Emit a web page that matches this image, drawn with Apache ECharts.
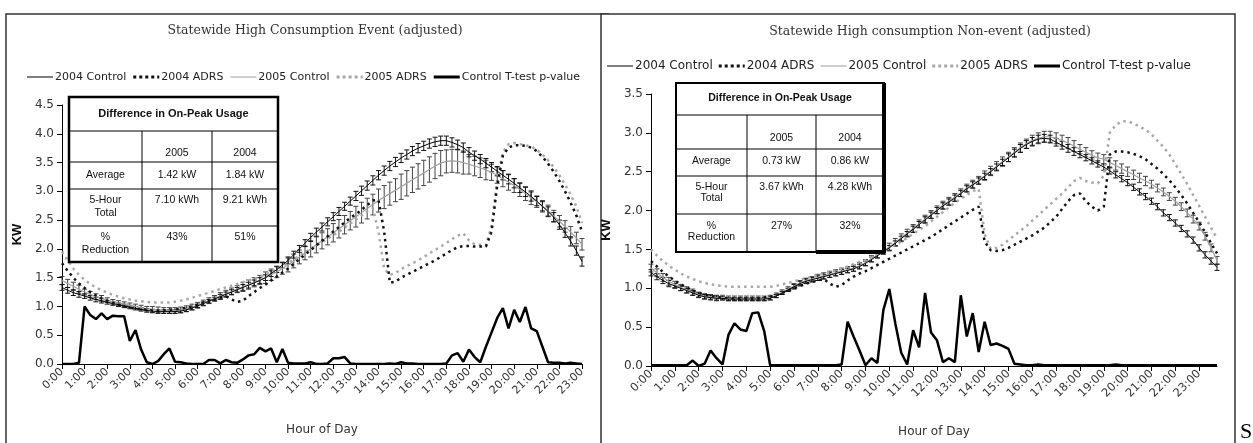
<!DOCTYPE html>
<html><head><meta charset="utf-8">
<script src="https://cdn.jsdelivr.net/npm/echarts@6/dist/echarts.min.js"></script>
<style>html,body{margin:0;padding:0;background:#fff}#c{width:1253px;height:443px}</style>
</head><body><div id="c"></div>
<script>
const seriesNames = ['2004 Control','2004 ADRS','2005 Control','2005 ADRS','Control T-test p-value'];
const titleEvent = 'Statewide High Consumption Event (adjusted)';
const titleNonEvent = 'Statewide High consumption Non-event (adjusted)';

// ---- Left panel: Event (15-min points, 0:00 .. 23:00) ----
const evt2004Control = [
1.33,1.28,1.24,1.21, 1.18,1.15,1.12,1.10, 1.07,1.05,1.03,1.01, 0.99,0.97,0.95,0.93,
0.92,0.91,0.91,0.91, 0.91,0.92,0.94,0.97, 1.01,1.05,1.09,1.13, 1.17,1.21,1.25,1.29,
1.33,1.37,1.41,1.45, 1.50,1.57,1.64,1.72, 1.80,1.90,2.00,2.10, 2.20,2.29,2.38,2.47,
2.56,2.65,2.74,2.83, 2.92,3.01,3.10,3.19, 3.28,3.36,3.44,3.51, 3.58,3.64,3.70,3.75,
3.79,3.83,3.86,3.88, 3.88,3.85,3.81,3.76, 3.68,3.62,3.56,3.49, 3.42,3.35,3.28,3.21,
3.14,3.06,2.99,2.91, 2.83,2.74,2.65,2.55, 2.42,2.28,2.13,1.97, 1.78];
const evt2005Control = [
1.45,1.40,1.35,1.30, 1.25,1.21,1.17,1.14, 1.11,1.08,1.06,1.04, 1.02,1.00,0.98,0.96,
0.95,0.94,0.93,0.93, 0.93,0.94,0.96,0.99, 1.02,1.06,1.10,1.14, 1.18,1.22,1.26,1.30,
1.34,1.38,1.42,1.46, 1.50,1.55,1.60,1.66, 1.72,1.79,1.86,1.93, 2.00,2.07,2.14,2.21,
2.28,2.35,2.42,2.49, 2.56,2.63,2.70,2.77, 2.84,2.90,2.96,3.02, 3.08,3.14,3.20,3.26,
3.32,3.38,3.44,3.49, 3.52,3.53,3.52,3.50, 3.47,3.44,3.41,3.37, 3.33,3.28,3.22,3.16,
3.10,3.03,2.96,2.89, 2.82,2.74,2.66,2.57, 2.48,2.39,2.29,2.19, 2.08];
const evt2004Adrs = [
1.75,1.62,1.50,1.40, 1.32,1.25,1.19,1.14, 1.10,1.06,1.03,1.00, 0.98,0.96,0.95,0.94,
0.93,0.93,0.93,0.94, 0.95,0.96,0.98,1.00, 1.03,1.06,1.09,1.12, 1.15,1.18,1.12,1.08,
1.10,1.18,1.25,1.32, 1.38,1.45,1.52,1.59, 1.66,1.74,1.82,1.90, 1.98,2.06,2.14,2.22,
2.30,2.38,2.46,2.54, 2.60,2.68,2.76,2.84, 2.85,2.30,1.41,1.43, 1.50,1.55,1.60,1.65,
1.70,1.75,1.80,1.86, 1.92,1.98,2.03,2.05, 2.05,2.04,2.04,2.04, 2.30,3.10,3.62,3.76,
3.80,3.80,3.79,3.76, 3.70,3.60,3.48,3.34, 3.18,3.00,2.80,2.58, 2.30];
const evt2005Adrs = [
1.95,1.80,1.66,1.55, 1.46,1.39,1.33,1.28, 1.24,1.20,1.17,1.14, 1.12,1.10,1.09,1.08,
1.07,1.07,1.07,1.07, 1.08,1.10,1.12,1.15, 1.18,1.21,1.24,1.27, 1.30,1.33,1.36,1.39,
1.42,1.45,1.48,1.51, 1.55,1.60,1.65,1.70, 1.76,1.82,1.88,1.94, 2.00,2.06,2.12,2.18,
2.24,2.30,2.37,2.44, 2.51,2.58,2.65,2.70, 2.30,1.65,1.55,1.58, 1.65,1.70,1.75,1.80,
1.86,1.92,1.98,2.04, 2.10,2.17,2.23,2.27, 2.15,2.08,2.07,2.06, 2.40,3.20,3.68,3.82,
3.84,3.82,3.80,3.78, 3.72,3.64,3.54,3.42, 3.28,3.12,2.94,2.74, 2.45];
const evtPValue = [
0.00,0.00,0.00,0.02, 1.00,0.85,0.78,0.88, 0.78,0.84,0.83,0.83, 0.40,0.59,0.25,0.03,
0.00,0.05,0.17,0.27, 0.04,0.03,0.01,0.00, 0.00,0.00,0.07,0.07, 0.01,0.07,0.03,0.02,
0.08,0.15,0.17,0.28, 0.22,0.27,0.03,0.26, 0.02,0.01,0.01,0.01, 0.03,0.00,0.00,0.01,
0.10,0.10,0.12,0.01, 0.00,0.00,0.00,0.00, 0.00,0.00,0.01,0.00, 0.03,0.01,0.01,0.00,
0.00,0.00,0.00,0.00, 0.01,0.15,0.19,0.04, 0.25,0.12,0.03,0.30, 0.55,0.80,0.97,0.62,
0.94,0.73,0.99,0.62, 0.57,0.30,0.03,0.02, 0.02,0.01,0.02,0.01, 0.00];
// error-bar half widths, one per hour
const evt2004ControlErr = [0.05,0.04,0.03,0.03,0.03,0.03,0.03,0.04,0.05,0.05,0.06,0.07,0.07,0.08,0.08,0.08,0.08,0.08,0.08,0.08,0.08,0.08,0.08,0.08];
const evt2005ControlErr = [0.07,0.05,0.04,0.04,0.05,0.05,0.05,0.06,0.08,0.10,0.12,0.14,0.16,0.18,0.20,0.22,0.22,0.20,0.17,0.14,0.12,0.10,0.10,0.10];

// ---- Right panel: Non-event (15-min points, 0:00 .. 23:45) ----
const non2004Control = [
1.20,1.15,1.10,1.06, 1.03,1.00,0.97,0.94, 0.91,0.89,0.88,0.87, 0.87,0.86,0.86,0.86,
0.86,0.86,0.86,0.86, 0.87,0.90,0.94,0.98, 1.02,1.06,1.09,1.11, 1.13,1.15,1.17,1.19,
1.21,1.23,1.25,1.28, 1.32,1.37,1.42,1.47, 1.52,1.58,1.64,1.70, 1.76,1.82,1.88,1.94,
2.00,2.06,2.11,2.16, 2.22,2.28,2.33,2.38, 2.44,2.50,2.56,2.62, 2.68,2.74,2.80,2.85,
2.89,2.92,2.93,2.92, 2.88,2.84,2.80,2.76, 2.72,2.68,2.64,2.60, 2.56,2.51,2.46,2.41,
2.36,2.30,2.24,2.18, 2.12,2.05,1.97,1.91, 1.84,1.77,1.70,1.62, 1.52,1.43,1.35,1.27];
const non2005Control = [
1.26,1.20,1.14,1.09, 1.05,1.01,0.98,0.95, 0.92,0.90,0.89,0.88, 0.88,0.87,0.87,0.87,
0.87,0.87,0.87,0.87, 0.88,0.91,0.95,0.99, 1.03,1.07,1.10,1.12, 1.14,1.16,1.18,1.20,
1.22,1.24,1.26,1.29, 1.33,1.38,1.43,1.48, 1.53,1.59,1.65,1.71, 1.77,1.83,1.89,1.95,
2.01,2.07,2.12,2.17, 2.23,2.29,2.34,2.39, 2.45,2.51,2.57,2.63, 2.69,2.75,2.81,2.86,
2.90,2.93,2.95,2.95, 2.93,2.90,2.87,2.83, 2.79,2.75,2.71,2.68, 2.66,2.62,2.58,2.54,
2.50,2.46,2.42,2.38, 2.34,2.29,2.24,2.18, 2.12,2.05,1.97,1.89, 1.80,1.67,1.52,1.36];
const non2004Adrs = [
1.35,1.28,1.21,1.15, 1.10,1.05,1.01,0.97, 0.94,0.92,0.90,0.89, 0.88,0.87,0.87,0.87,
0.87,0.87,0.87,0.88, 0.89,0.91,0.94,0.97, 1.00,1.03,1.06,1.08, 1.10,1.12,1.06,1.02,
1.04,1.10,1.15,1.19, 1.22,1.26,1.30,1.34, 1.38,1.42,1.46,1.50, 1.54,1.58,1.62,1.66,
1.71,1.76,1.81,1.86, 1.91,1.96,2.01,2.05, 1.60,1.49,1.48,1.49, 1.52,1.56,1.60,1.64,
1.68,1.73,1.78,1.85, 1.92,2.02,2.12,2.20, 2.22,2.12,2.05,2.00, 2.05,2.72,2.76,2.76,
2.75,2.73,2.70,2.66, 2.60,2.54,2.47,2.39, 2.30,2.20,2.09,1.97, 1.85,1.72,1.58,1.45];
const non2005Adrs = [
1.50,1.42,1.35,1.29, 1.24,1.19,1.15,1.12, 1.09,1.07,1.05,1.04, 1.03,1.02,1.02,1.02,
1.02,1.02,1.02,1.02, 1.02,1.03,1.05,1.07, 1.09,1.11,1.13,1.15, 1.17,1.19,1.21,1.23,
1.25,1.28,1.31,1.34, 1.36,1.40,1.44,1.48, 1.52,1.56,1.60,1.65, 1.70,1.75,1.80,1.86,
1.92,1.98,2.04,2.10, 2.15,2.20,2.25,2.28, 1.70,1.51,1.52,1.56, 1.62,1.68,1.74,1.80,
1.87,1.94,2.01,2.08, 2.15,2.22,2.30,2.38, 2.42,2.38,2.36,2.35, 2.45,3.00,3.10,3.15,
3.15,3.12,3.08,3.04, 2.98,2.90,2.82,2.72, 2.60,2.47,2.34,2.20, 2.06,1.92,1.78,1.64];
const nonPValue = [
0.01,0.01,0.01,0.01, 0.01,0.01,0.01,0.07, 0.00,0.03,0.20,0.10, 0.02,0.40,0.55,0.47,
0.45,0.68,0.69,0.45, 0.01,0.01,0.01,0.01, 0.01,0.01,0.01,0.01, 0.01,0.01,0.01,0.01,
0.02,0.57,0.38,0.20, 0.01,0.10,0.04,0.72, 0.99,0.55,0.17,0.02, 0.46,0.24,0.94,0.43,
0.33,0.05,0.10,0.05, 0.91,0.38,0.68,0.18, 0.57,0.27,0.29,0.26, 0.22,0.03,0.02,0.01,
0.01,0.02,0.01,0.01, 0.01,0.01,0.01,0.01, 0.01,0.01,0.01,0.01, 0.01,0.01,0.02,0.01,
0.01,0.01,0.01,0.01, 0.01,0.01,0.01,0.01, 0.01,0.01,0.01,0.01, 0.01,0.01,0.01,0.01];
const non2004ControlErr = [0.04,0.03,0.03,0.02,0.02,0.02,0.03,0.03,0.03,0.03,0.03,0.04,0.04,0.04,0.04,0.05,0.05,0.05,0.04,0.04,0.04,0.04,0.04,0.04];
const non2005ControlErr = [0.05,0.04,0.03,0.03,0.03,0.03,0.03,0.04,0.04,0.04,0.05,0.05,0.05,0.05,0.06,0.06,0.07,0.07,0.06,0.06,0.06,0.05,0.05,0.05];

// inset tables
const tableHeader = 'Difference in On-Peak Usage';
const tableYears = ['2005','2004'];
const tableRowLabels = [['Average'],['5-Hour','Total'],['%','Reduction']];
const evtTable = [['1.42 kW','1.84 kW'],['7.10 kWh','9.21 kWh'],['43%','51%']];
const nonTable = [['0.73 kW','0.86 kW'],['3.67 kWh','4.28 kWh'],['27%','32%']];

// categories (15-minute steps)
const quarters = ['00','15','30','45'];
function makeCats(n){ const a=[]; for(let i=0;i<n;i++) a.push(Math.floor(i/4)+':'+quarters[i%4]); return a; }
const catsEvt = makeCats(evt2004Control.length);
const catsNon = makeCats(non2004Control.length);

// series styles (also used for the hand-drawn legend)
const styles = [
  {color:'#000', width:1, dash:null},          // 2004 Control
  {color:'#111', width:2.5, dash:[2.5,4]},     // 2004 ADRS
  {color:'#a0a0a0', width:1.2, dash:null},     // 2005 Control
  {color:'#a8a8a8', width:2.5, dash:[2.5,4]},  // 2005 ADRS
  {color:'#000', width:2.5, dash:null}         // p-value
];

function errData(vals, errs){ return vals.map((v,i)=>{const e=errs[Math.floor(i/4)]; return [i, v, v-e, v+e];}); }
function errRender(color, cap){
  return function(params, api){
    const i = api.value(0);
    const lo = api.coord([i, api.value(2)]);
    const hi = api.coord([i, api.value(3)]);
    const st = {stroke: color, lineWidth: 1};
    return {type:'group', children:[
      {type:'line', shape:{x1:lo[0],y1:lo[1],x2:hi[0],y2:hi[1]}, style:st},
      {type:'line', shape:{x1:lo[0]-cap,y1:lo[1],x2:lo[0]+cap,y2:lo[1]}, style:st},
      {type:'line', shape:{x1:hi[0]-cap,y1:hi[1],x2:hi[0]+cap,y2:hi[1]}, style:st}
    ]};
  };
}

const FONT = 'DejaVu Sans';
function lineSeries(idx, k, data, z){
  const s = styles[k];
  return {type:'line', name: seriesNames[k], xAxisIndex: idx, yAxisIndex: idx, data: data,
    symbol:'none', showSymbol:false, z:z,
    lineStyle:{color:s.color, width:s.width, type: s.dash || 'solid'}, itemStyle:{color:s.color}};
}
function panelSeries(idx, c04, c05, a04, a05, pv, e04, e05, cap){
  return [
    {type:'custom', xAxisIndex: idx, yAxisIndex: idx, renderItem: errRender('#444', cap), data: errData(c05, e05), encode:{x:0, y:[1,2,3]}, z:3, silent:true},
    {type:'custom', xAxisIndex: idx, yAxisIndex: idx, renderItem: errRender('#111', cap), data: errData(c04, e04), encode:{x:0, y:[1,2,3]}, z:3, silent:true},
    lineSeries(idx, 2, c05, 4),
    lineSeries(idx, 0, c04, 5),
    lineSeries(idx, 3, a05, 4),
    lineSeries(idx, 1, a04, 5),
    lineSeries(idx, 4, pv, 6)
  ];
}

function xAxisCfg(idx, cats, fs){
  return {type:'category', gridIndex: idx, data: cats, boundaryGap:false,
    axisLine:{lineStyle:{color:'#000', width:1}},
    axisTick:{interval:3, length:5, lineStyle:{color:'#000'}},
    axisLabel:{interval:3, rotate:45, margin:6, fontFamily:FONT, fontSize:fs, color:'#333'},
    name:'Hour of Day', nameLocation:'middle', nameGap:60,
    nameTextStyle:{fontFamily:FONT, fontSize:12, color:'#333'}, splitLine:{show:false}};
}
function yAxisCfg(idx, max){
  return {type:'value', gridIndex: idx, min:0, max:max, interval:0.5,
    axisLine:{show:true, lineStyle:{color:'#000', width:1}},
    axisTick:{show:true, length:5, lineStyle:{color:'#000'}},
    axisLabel:{formatter:v=>v.toFixed(1), fontFamily:FONT, fontSize:12, color:'#333', margin:8},
    splitLine:{show:false},
    name:'KW', nameLocation:'middle', nameGap:38, nameRotate:90,
    nameTextStyle:{fontFamily:'Liberation Sans', fontWeight:'bold', fontSize:13, color:'#111'}};
}

// hand-drawn legend (line icons without markers)
const measureCtx = document.createElement('canvas').getContext('2d');
function legendGraphic(x, y, fs, gap){
  const els = [];
  const font = fs + 'px "DejaVu Sans"';
  measureCtx.font = font;
  seriesNames.forEach((name, k)=>{
    const s = styles[k];
    const w = k===4 ? 3 : (s.dash ? 3 : 1);
    const st = {stroke:s.color, lineWidth:w};
    if (s.dash) st.lineDash = [3,3];
    els.push({type:'line', shape:{x1:x, y1:y, x2:x+26, y2:y}, style:st, z:20});
    x += 26 + 2;
    els.push({type:'text', x:x, y:y, z:20, style:{text:name, font:font, fill:'#222', align:'left', verticalAlign:'middle', textAlign:'left', textVerticalAlign:'middle'}});
    x += measureCtx.measureText(name).width + gap;
  });
  return els;
}

function tableGraphic(x0, y0, x1, y1, rows, cols, vals, opt){
  const els = [];
  els.push({type:'rect', shape:{x:x0, y:y0, width:x1-x0, height:y1-y0}, style:{fill:'#fff', stroke:'#000', lineWidth:opt.border}, z:100});
  if (opt.extra) {
    els.push({type:'line', shape:{x1:x1, y1:y0, x2:x1, y2:y1+1}, style:{stroke:'#000', lineWidth:opt.extra}, z:101});
    els.push({type:'line', shape:{x1:cols[1], y1:y1, x2:x1+1, y2:y1}, style:{stroke:'#000', lineWidth:opt.extra}, z:101});
  }
  rows.forEach(r=>els.push({type:'line', shape:{x1:x0, y1:r, x2:x1, y2:r}, style:{stroke:'#000', lineWidth:1}, z:101}));
  cols.forEach(c=>els.push({type:'line', shape:{x1:c, y1:rows[0], x2:c, y2:y1}, style:{stroke:'#000', lineWidth:1}, z:101}));
  const font = '10.5px "Liberation Sans", Arial, sans-serif';
  function txt(x, y, t, f){ return {type:'text', x:x, y:y, z:102, style:{text:t, font:f||font, fill:'#111', align:'center', verticalAlign:'middle', textAlign:'center', textVerticalAlign:'middle'}}; }
  els.push(txt((x0+x1)/2, opt.headY, tableHeader, 'bold '+opt.headSize+'px "Liberation Sans", Arial, sans-serif'));
  const cx = [(x0+cols[0])/2, (cols[0]+cols[1])/2, (cols[1]+x1)/2];
  els.push(txt(cx[1], opt.yearY, tableYears[0]));
  els.push(txt(cx[2], opt.yearY, tableYears[1]));
  tableRowLabels.forEach((lab, r)=>{
    lab.forEach((t, k)=>els.push(txt(cx[0], opt.rowY[r] + k*opt.lineH, t)));
    els.push(txt(cx[1], opt.rowY[r], vals[r][0]));
    els.push(txt(cx[2], opt.rowY[r], vals[r][1]));
  });
  return els;
}

const graphics = [
  {type:'rect', shape:{x:6, y:14, width:602, height:440}, style:{fill:'#fff', stroke:'#333', lineWidth:1.5}, z:-10},
  {type:'rect', shape:{x:601, y:14, width:634, height:440}, style:{fill:'#fff', stroke:'#333', lineWidth:1.5}, z:-9},
  {type:'text', x:315, y:31, z:10, style:{text:titleEvent, font:'12.5px "DejaVu Serif", serif', fill:'#333', align:'center', verticalAlign:'middle', textAlign:'center', textVerticalAlign:'middle'}},
  {type:'text', x:930, y:32, z:10, style:{text:titleNonEvent, font:'12.5px "DejaVu Serif", serif', fill:'#333', align:'center', verticalAlign:'middle', textAlign:'center', textVerticalAlign:'middle'}},
  {type:'text', x:1240, y:432, z:10, style:{text:'S', font:'22px "Liberation Serif", serif', fill:'#000', align:'left', verticalAlign:'middle', textAlign:'left', textVerticalAlign:'middle'}}
].concat(
  legendGraphic(27, 77, 11, 7),
  legendGraphic(607, 66, 12, 6),
  tableGraphic(69, 97, 278, 262, [131,162,189,226], [142,212], evtTable,
    {border:2.5, headY:114, headSize:11, yearY:153, rowY:[175,200,237], lineH:13}),
  tableGraphic(676, 83, 884, 252, [115,149,176,214], [747,816], nonTable,
    {border:2, extra:4, headY:98, headSize:10.5, yearY:138, rowY:[161,187,226], lineH:11})
);

const chart = echarts.init(document.getElementById('c'), null, {renderer:'canvas'});
chart.setOption({
  animation:false,
  backgroundColor:'#fff',
  grid:[
    {left:62, top:105, width:520, height:259, containLabel:false},
    {left:651, top:94, width:566, height:272, containLabel:false}
  ],
  xAxis:[xAxisCfg(0, catsEvt, 11), xAxisCfg(1, catsNon, 11.5)],
  yAxis:[yAxisCfg(0, 4.5), yAxisCfg(1, 3.5)],
  series: panelSeries(0, evt2004Control, evt2005Control, evt2004Adrs, evt2005Adrs, evtPValue, evt2004ControlErr, evt2005ControlErr, 2.5)
    .concat(panelSeries(1, non2004Control, non2005Control, non2004Adrs, non2005Adrs, nonPValue, non2004ControlErr, non2005ControlErr, 2.5)),
  graphic:{elements: graphics}
});
</script></body></html>
